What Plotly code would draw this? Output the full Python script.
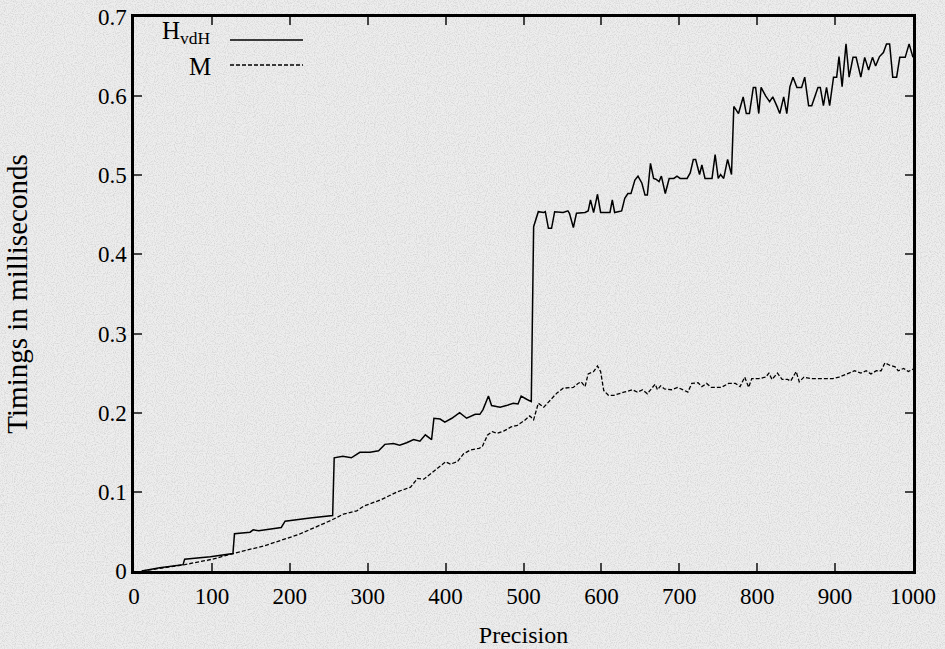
import base64
import plotly.graph_objects as go

# ---- data ----
h_precision = [10, 33, 63, 65, 98, 127, 129, 149, 153, 160, 189, 194, 226, 255, 257, 268, 279, 290, 303, 314,
               322, 333, 341, 350, 359, 367, 374, 382, 385, 393, 399, 408, 418, 427, 438, 444, 448, 455, 459, 470,
               478, 487, 493, 497, 504, 510, 513, 519, 526, 528, 532, 536, 540, 551, 557, 559, 564, 568, 579, 583,
               586, 590, 595, 599, 611, 614, 617, 626, 630, 634, 638, 643, 647, 652, 656, 659, 663, 667, 670, 674,
               677, 682, 687, 693, 697, 701, 710, 714, 718, 721, 726, 729, 733, 742, 746, 750, 753, 757, 762, 767,
               770, 776, 782, 786, 790, 795, 798, 802, 805, 811, 816, 820, 825, 829, 834, 838, 842, 846, 851, 857,
               861, 866, 870, 878, 881, 885, 889, 893, 898, 902, 905, 909, 914, 918, 923, 927, 933, 938, 943, 948,
               952, 957, 962, 966, 970, 974, 979, 983, 990, 995, 1000]
h_timing = [0.000, 0.004, 0.008, 0.015, 0.018, 0.022, 0.047, 0.049, 0.052, 0.051, 0.055, 0.063, 0.067, 0.070, 0.143,
            0.145, 0.143, 0.150, 0.150, 0.152, 0.160, 0.161, 0.159, 0.162, 0.166, 0.164, 0.172, 0.166, 0.193, 0.192,
            0.188, 0.193, 0.200, 0.193, 0.198, 0.198, 0.204, 0.221, 0.209, 0.207, 0.209, 0.212, 0.211, 0.221, 0.217,
            0.214, 0.435, 0.454, 0.453, 0.454, 0.433, 0.433, 0.454, 0.453, 0.455, 0.452, 0.434, 0.452, 0.453, 0.455,
            0.469, 0.453, 0.476, 0.453, 0.453, 0.469, 0.453, 0.455, 0.471, 0.477, 0.477, 0.494, 0.499, 0.490, 0.475,
            0.475, 0.515, 0.496, 0.495, 0.492, 0.499, 0.477, 0.496, 0.496, 0.499, 0.496, 0.496, 0.503, 0.520, 0.520,
            0.501, 0.513, 0.496, 0.496, 0.526, 0.496, 0.501, 0.496, 0.520, 0.501, 0.587, 0.578, 0.599, 0.578, 0.578,
            0.611, 0.611, 0.578, 0.611, 0.600, 0.593, 0.599, 0.588, 0.578, 0.599, 0.578, 0.612, 0.624, 0.611, 0.611,
            0.624, 0.588, 0.588, 0.611, 0.611, 0.588, 0.611, 0.588, 0.624, 0.624, 0.650, 0.612, 0.666, 0.624, 0.649,
            0.649, 0.624, 0.649, 0.633, 0.649, 0.638, 0.650, 0.655, 0.666, 0.666, 0.624, 0.624, 0.649, 0.649, 0.666,
            0.649]

m_precision = [10, 37, 65, 101, 127, 168, 211, 253, 269, 286, 295, 317, 338, 355, 364, 372, 381, 390, 400, 406,
               415, 423, 432, 443, 447, 454, 460, 466, 475, 484, 492, 501, 508, 513, 519, 526, 534, 543, 551, 564,
               570, 574, 579, 583, 590, 595, 599, 603, 609, 616, 629, 640, 646, 653, 659, 666, 669, 672, 676, 681,
               690, 698, 705, 711, 716, 724, 729, 735, 741, 754, 763, 772, 778, 784, 789, 793, 802, 811, 815, 819,
               826, 832, 839, 843, 850, 854, 860, 869, 878, 888, 897, 905, 914, 925, 933, 940, 946, 953, 959, 964,
               970, 977, 981, 988, 994, 1000]
m_timing = [0.000, 0.004, 0.008, 0.015, 0.022, 0.032, 0.046, 0.064, 0.072, 0.076, 0.082, 0.090, 0.100, 0.106, 0.117,
            0.116, 0.123, 0.131, 0.138, 0.135, 0.138, 0.148, 0.153, 0.155, 0.157, 0.172, 0.176, 0.174, 0.177, 0.182,
            0.184, 0.190, 0.196, 0.191, 0.212, 0.207, 0.216, 0.225, 0.231, 0.232, 0.237, 0.239, 0.233, 0.249, 0.252,
            0.259, 0.252, 0.228, 0.222, 0.222, 0.226, 0.229, 0.226, 0.229, 0.224, 0.232, 0.236, 0.229, 0.234, 0.230,
            0.229, 0.232, 0.229, 0.226, 0.237, 0.238, 0.233, 0.237, 0.232, 0.232, 0.237, 0.237, 0.233, 0.245, 0.232,
            0.243, 0.243, 0.245, 0.250, 0.242, 0.250, 0.242, 0.242, 0.240, 0.252, 0.239, 0.245, 0.243, 0.243, 0.243,
            0.243, 0.245, 0.249, 0.253, 0.250, 0.253, 0.249, 0.253, 0.253, 0.263, 0.260, 0.258, 0.253, 0.256, 0.252,
            0.255]

series_names = ["H<sub>vdH</sub>", "M"]
x_ticks = [0, 100, 200, 300, 400, 500, 600, 700, 800, 900, 1000]
y_ticks = [0, 0.1, 0.2, 0.3, 0.4, 0.5, 0.6, 0.7]
y_tick_text = ["0", "0.1", "0.2", "0.3", "0.4", "0.5", "0.6", "0.7"]

FONT = "Liberation Serif"
W, H = 945, 649
ML, MR, MT, MB = 134, 32, 17, 78
PW, PH = W - ML - MR, H - MT - MB

# paper-like noisy grey background (decoration only)
svg = (
    "<svg xmlns='http://www.w3.org/2000/svg' width='945' height='649'>"
    "<filter id='n' x='0' y='0' width='100%' height='100%'>"
    "<feTurbulence type='fractalNoise' baseFrequency='0.9' numOctaves='2' seed='3' stitchTiles='stitch'/>"
    "<feColorMatrix type='matrix' values='0 0 0 0 0.6  0 0 0 0 0.6  0 0 0 0 0.6  1.7 0 0 0 -0.68'/>"
    "</filter>"
    "<rect width='945' height='649' fill='#eeeeee'/>"
    "<rect width='945' height='649' filter='url(#n)'/>"
    "</svg>"
)
bg_src = "data:image/svg+xml;base64," + base64.b64encode(svg.encode()).decode()

fig = go.Figure()
fig.add_trace(go.Scatter(x=h_precision, y=h_timing, mode="lines", name=series_names[0],
                         line=dict(color="black", width=1.5), showlegend=False))
fig.add_trace(go.Scatter(x=m_precision, y=m_timing, mode="lines", name=series_names[1],
                         line=dict(color="black", width=1.3, dash="4px,2px"), showlegend=False))

# gnuplot-style key: label text right-aligned, sample line to its right (pixel rows from top)
key_text_py = [33, 66]
key_line_py = [40, 65]
key_dash = ["solid", "4px,2px"]
for tpy, lpy, dash, name in zip(key_text_py, key_line_py, key_dash, series_names):
    fig.add_annotation(xref="paper", yref="paper", x=(213 - ML) / PW, y=(H - MB - tpy) / PH, text=name,
                       showarrow=False, xanchor="right", yanchor="middle",
                       font=dict(family=FONT, size=25, color="black"))
    fig.add_shape(type="line", xref="paper", yref="paper", x0=(230 - ML) / PW, x1=(303 - ML) / PW,
                  y0=(H - MB - lpy) / PH, y1=(H - MB - lpy) / PH, line=dict(color="black", width=1.4, dash=dash))

fig.add_layout_image(dict(source=bg_src, xref="paper", yref="paper", x=-ML / PW, y=1 + MT / PH,
                          sizex=W / PW, sizey=H / PH, sizing="stretch", xanchor="left", yanchor="top",
                          layer="below"))

fig.update_layout(
    width=W, height=H,
    margin=dict(l=ML, r=MR, t=MT, b=MB, autoexpand=False),
    paper_bgcolor="#e9e9e9", plot_bgcolor="rgba(0,0,0,0)",
    font=dict(family=FONT, size=23, color="black"),
    xaxis=dict(range=[0, 1000], tickvals=x_ticks, ticks="inside", ticklen=8, tickwidth=2,
               showline=True, linewidth=2.5, linecolor="black", mirror="ticks", showgrid=False,
               zeroline=False, automargin=False, ticklabelstandoff=3,
               title=dict(text="Precision", font=dict(family=FONT, size=24), standoff=18)),
    yaxis=dict(range=[0, 0.7], tickvals=y_ticks, ticktext=y_tick_text, ticks="inside", ticklen=8,
               tickwidth=2, showline=True, linewidth=2.5, linecolor="black", mirror="ticks",
               showgrid=False, zeroline=False, automargin=False,
               title=dict(text="Timings in milliseconds", font=dict(family=FONT, size=29), standoff=62)),
)

fig.write_html("out.html", config={"displayModeBar": False},
               post_script="document.body.style.margin='0';")
